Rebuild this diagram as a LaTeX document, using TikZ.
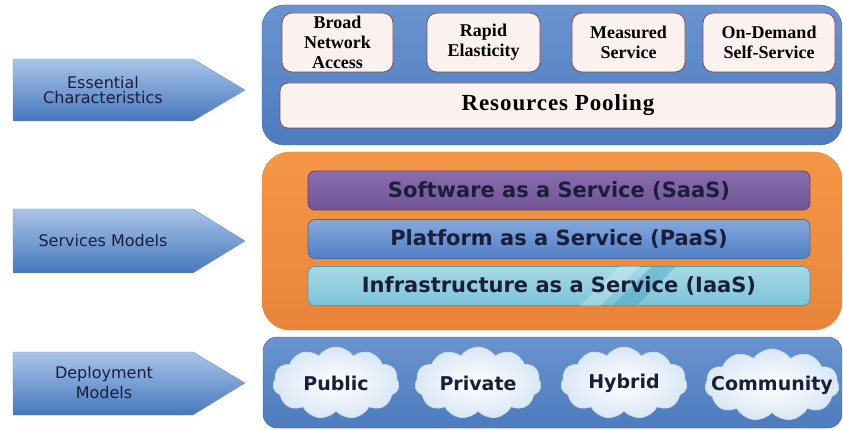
\documentclass[tikz,border=0pt]{standalone}
\usepackage{fontspec}
\setmainfont{Liberation Serif}
\newfontfamily\sansfont{DejaVu Sans}
\usetikzlibrary{shapes.symbols,positioning}

\definecolor{paneltop}{HTML}{6A94CF}
\definecolor{panelbot}{HTML}{4D7BBE}
\definecolor{paneledge}{HTML}{3C68A6}
\definecolor{orangetop}{HTML}{F49746}
\definecolor{orangebot}{HTML}{E9843A}
\definecolor{arrowtop}{HTML}{A9C4E9}
\definecolor{arrowmid}{HTML}{6994D0}
\definecolor{arrowbot}{HTML}{4677BD}
\definecolor{arrowedge}{HTML}{7496C8}
\definecolor{saastop}{HTML}{8A6DAE}
\definecolor{saasbot}{HTML}{6F5495}
\definecolor{paastop}{HTML}{86A9DD}
\definecolor{paasbot}{HTML}{4F7FC5}
\definecolor{iaastop}{HTML}{A8D9E7}
\definecolor{iaasbot}{HTML}{7CC4D9}
\definecolor{iaasdark}{HTML}{3FA3BF}
\definecolor{boxfill}{HTML}{FBF2F0}
\definecolor{boxedge}{HTML}{8E4A4A}
\definecolor{navytext}{HTML}{1B1E3A}
\definecolor{cloudblue}{HTML}{C9DDF0}

\begin{document}
\begin{tikzpicture}[
			x=1pt, y=-1pt,
			every node/.style={inner sep=0pt},
			arrowbox/.style={draw=arrowedge, top color=arrowtop, middle color=arrowmid, bottom color=arrowbot},
			arrowtext/.style={font=\sansfont\fontsize{16}{15}\selectfont, text=navytext, align=center},
			charbox/.style={draw=boxedge, fill=boxfill, line width=0.8pt, rounded corners=10pt,
				minimum height=59, align=center, font=\bfseries\fontsize{18}{20}\selectfont},
			barbox/.style={line width=0.8pt, rounded corners=7pt, minimum width=502, minimum height=39,
				font=\sansfont\bfseries\fontsize{21}{24}\selectfont, text=navytext},
			cloudnode/.style={cloud, cloud puffs=11, cloud puff arc=110, aspect=1.75,
				minimum width=126, minimum height=72, draw=cloudblue, line width=0.6pt,
				inner color=white, outer color=cloudblue!70},
			cloudtext/.style={font=\sansfont\bfseries\fontsize{19}{22}\selectfont, text=navytext}
			]

			\useasboundingbox (0,0) rectangle (843,430);

			% side arrows
			\draw[arrowbox] (13,59) -- (193,59) -- (245,90) -- (193,121) -- (13,121) -- cycle;
			\node[arrowtext, font=\sansfont\fontsize{16}{14.5}\selectfont] (ess) at (103,90) {Essential\\Characteristics};

			\draw[arrowbox] (13,209) -- (193,209) -- (245,241) -- (193,273) -- (13,273) -- cycle;
			\node[arrowtext] (svc) at (103,241) {Services Models};

			\draw[arrowbox] (13,352) -- (193,352) -- (245,383) -- (193,415) -- (13,415) -- cycle;
			\node[arrowtext, font=\sansfont\fontsize{16}{20}\selectfont] (dep) at (104,383) {Deployment\\Models};

			% panels
			\draw[draw=paneledge, top color=paneltop, bottom color=panelbot, rounded corners=22pt] (262,5) rectangle (842,145);
			\draw[draw=orangebot, top color=orangetop, bottom color=orangebot, rounded corners=28pt] (262,152) rectangle (842,330);
			\draw[draw=paneledge, top color=paneltop, bottom color=panelbot, rounded corners=14pt] (263,337) rectangle (842,428);

			% essential characteristics
			\node[charbox, minimum width=111] (bna) at (337.5,42.5) {Broad\\Network\\Access};
			\node[charbox, minimum width=113] (rapid) at (483.5,42.5) {Rapid\\Elasticity};
			\node[charbox, minimum width=113] (meas) at (628.5,42.5) {Measured\\Service};
			\node[charbox, minimum width=132] (ondem) at (769,42.5) {On-Demand\\Self-Service};
			\node[charbox, minimum width=556, minimum height=45, rounded corners=8pt,
				font=\bfseries\fontsize{23}{26}\selectfont\addfontfeatures{LetterSpace=4}] (pool) at (558,105.5) {Resources Pooling};

			% service models
			\node[barbox, draw=saasbot!80!black, top color=saastop, bottom color=saasbot] (saas) at (559,190.5) {Software as a Service (SaaS)};
			\node[barbox, draw=paasbot!85!black, top color=paastop, bottom color=paasbot] (paas) at (559,239) {Platform as a Service (PaaS)};
			\node[barbox, draw=iaasdark, top color=iaastop, bottom color=iaasbot] (iaas) at (559,286) {};
			\begin{scope}
				\clip[rounded corners=7pt] (iaas.south west) rectangle (iaas.north east);
				\fill[iaasdark, opacity=0.45] (612,306) -- (652,266) -- (676,266) -- (636,306) -- cycle;
				\fill[white, opacity=0.25] (580,306) -- (620,266) -- (640,266) -- (600,306) -- cycle;
			\end{scope}
			\node[font=\sansfont\bfseries\fontsize{21}{24}\selectfont, text=navytext] (iaastext) at (iaas) {Infrastructure as a Service (IaaS)};

			% deployment models
			\node[cloudnode] (public) at (336,383) {};
			\node[cloudnode] (private) at (478,383) {};
			\node[cloudnode] (hybrid) at (624,383) {};
			\node[cloudnode, minimum width=134] (comm) at (772,385) {};
			\node[cloudtext] (publictext) at (public) {Public};
			\node[cloudtext] (privatetext) at (private) {Private};
			\node[cloudtext] (hybridtext) at (hybrid) {Hybrid};
			\node[cloudtext] (commtext) at (comm) {Community};

			\end{tikzpicture}
\end{document}
